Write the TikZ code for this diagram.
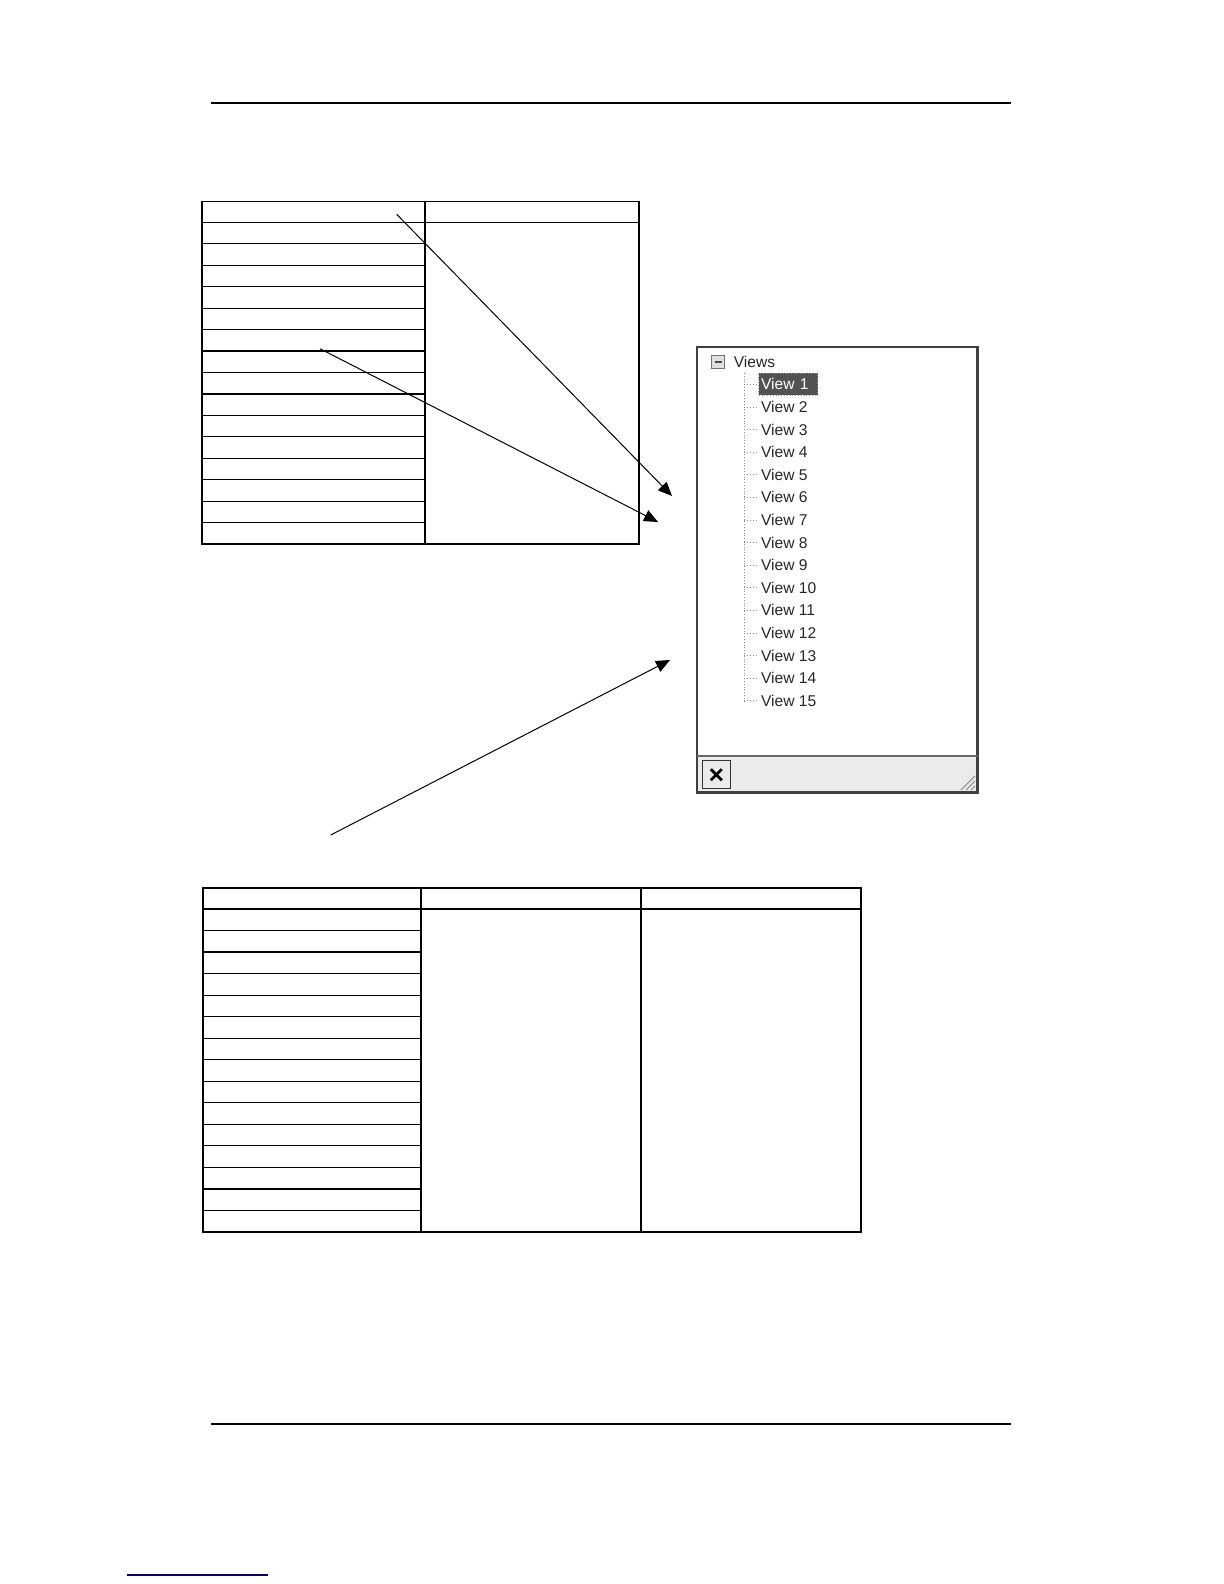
\documentclass[tikz,border=0pt]{standalone}
\usepackage{tikz}
\usepackage{fontspec}
\usetikzlibrary{arrows.meta}
\usetikzlibrary{positioning}
\usetikzlibrary{calc}
\newfontfamily\guifont{Liberation Sans}

\tikzset{
  grid/.style={line width=0.6pt},
  pointer/.style={line width=0.5pt, -{Triangle[length=7pt,width=6pt]}},
  viewitem/.style={anchor=west, inner xsep=1.2pt, inner ysep=0pt,
    minimum height=11pt, align=left, text=black!85,
    font=\guifont\fontsize{7.8}{9}\selectfont},
  selected/.style={text width=27pt, fill=black!68, draw=black!40, densely dotted, text=white},
  branch/.style={densely dotted, line width=0.4pt, black!45}
}

\begin{document}
\begin{tikzpicture}[x=0.5pt, y=-0.5pt]
 \useasboundingbox (0,0) rectangle (1224,1584);

 % page rules
 \draw[line width=0.75pt] (211,103) -- (1011,103);
 \draw[line width=1pt] (211,1424) -- (1011,1424);
 \draw[line width=0.6pt, blue!45!black] (127,1575) -- (268,1575);

 % first table
 \draw[grid] (202,201.5) rectangle (639,544);
 \draw[grid] (425,201.5) -- (425,544);
 \draw[grid] (202,222.3) -- (639,222.3);
 \foreach \r in {1,...,14}
   \draw[grid] (202,222.3+21.45*\r) -- (425,222.3+21.45*\r);

 % second table
 \draw[grid] (203,888) rectangle (861,1232);
 \draw[grid] (421,888) -- (421,1232);
 \draw[grid] (641,888) -- (641,1232);
 \draw[grid] (203,909) -- (861,909);
 \foreach \r in {1,...,14}
   \draw[grid] (203,909+21.53*\r) -- (421,909+21.53*\r);

 % views window
 \draw[fill=black!8, draw=none] (697,756) rectangle (977.5,792.5);
 \draw[line width=1.2pt, black!75] (697,347) rectangle (977.5,792.5);
 \draw[line width=1pt, black!60] (697,756) -- (977.5,756);
 \node[draw=black!80, line width=0.7pt, minimum width=14pt, minimum height=14pt,
   inner sep=0pt] (closebtn) at (716.3,774.7) {};
 \draw[line width=1.4pt] ($(closebtn)+(-5.5,-5.5)$) -- ($(closebtn)+(5.5,5.5)$);
 \draw[line width=1.4pt] ($(closebtn)+(-5.5,5.5)$) -- ($(closebtn)+(5.5,-5.5)$);
 \foreach \d in {4,9,14}
   \draw[black!50, line width=0.5pt] (975-\d,790) -- (975,790-\d);

 \node[draw=black!55, fill=black!12, minimum width=6.2pt, minimum height=6.2pt,
   inner sep=0pt] (minus) at (718,362) {};
 \draw[line width=0.6pt, black!70] ($(minus)+(-3.5,0)$) -- ($(minus)+(3.5,0)$);
 \node[viewitem] (views) at (731,362) {Views};

 \draw[branch] (744.3,373) -- (744.3,701);
 \foreach \k in {1,...,15} {
   \draw[branch] (744.3,384.3+22.6*\k-22.6) -- (756,384.3+22.6*\k-22.6);
   \ifnum\k=1
     \node[viewitem, selected] (view\k) at (758.3,384.3) {View \k};
   \else
     \node[viewitem] (view\k) at (758.3,384.3+22.6*\k-22.6) {View \k};
   \fi
 }

 % pointers
 \coordinate (from1) at (396.7,214.3);
 \coordinate (to1) at (672,496);
 \coordinate (from2) at (320,348.7);
 \coordinate (to2) at (658,522);
 \coordinate (from3) at (330.7,835);
 \coordinate (to3) at (670,660);
 \draw[pointer] (from1) -- (to1);
 \draw[pointer] (from2) -- (to2);
 \draw[pointer] (from3) -- (to3);
\end{tikzpicture}
\end{document}
